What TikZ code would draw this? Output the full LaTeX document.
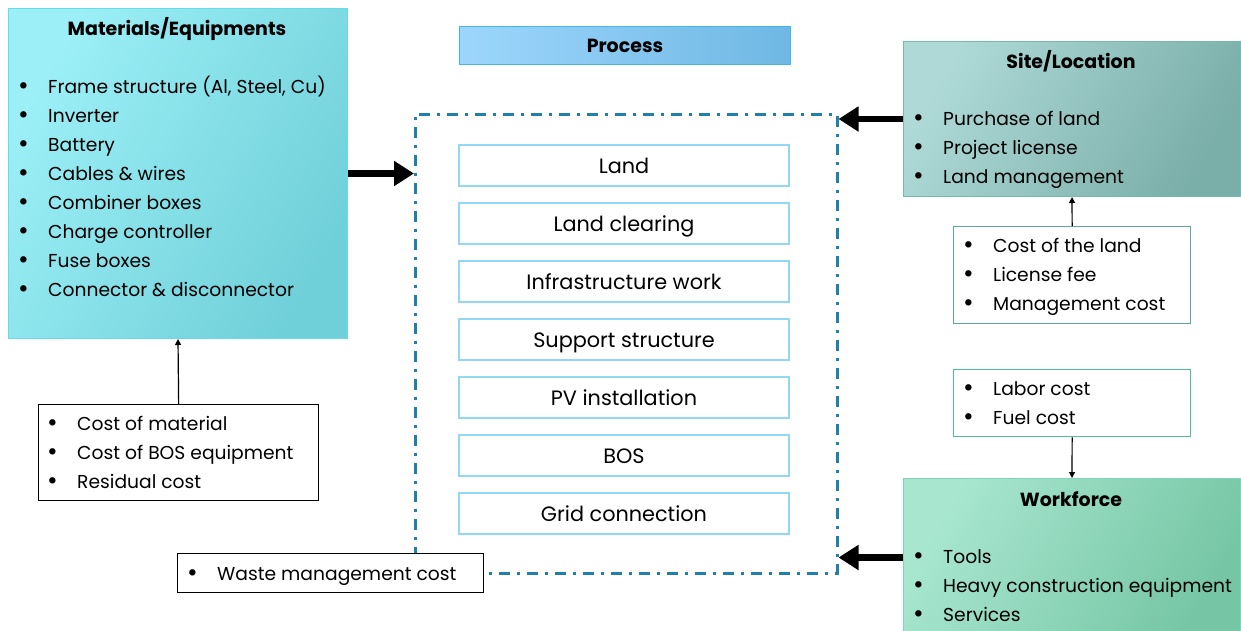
\documentclass[tikz,border=0pt]{standalone}
\usepackage{fontspec}
\setmainfont{Poppins}
\usetikzlibrary{arrows.meta}
\definecolor{matL}{HTML}{9CEFF6}
\definecolor{matR}{HTML}{70D0D9}
\definecolor{matB}{HTML}{66DCE8}
\definecolor{procL}{HTML}{9DD6FC}
\definecolor{procR}{HTML}{6FB8E4}
\definecolor{procB}{HTML}{45B5EA}
\definecolor{siteL}{HTML}{AED9D7}
\definecolor{siteR}{HTML}{7AAEA9}
\definecolor{siteB}{HTML}{75B9B3}
\definecolor{wfL}{HTML}{A8E6D0}
\definecolor{wfR}{HTML}{76C6A5}
\definecolor{wfB}{HTML}{80D5B8}
\definecolor{pboxB}{HTML}{92D8F2}
\definecolor{frameC}{HTML}{2180AA}
\definecolor{scB}{HTML}{5DA8A1}
\definecolor{labB}{HTML}{4DBD9A}
\newcommand\listfont{\fontsize{18.7}{29}\selectfont}
\newcommand\blist[1]{\begin{tabular}[t]{@{}p{30pt}@{}l@{}}#1\end{tabular}}
\newcommand\bl{\raisebox{-1.5pt}{\fontsize{26}{26}\selectfont\textbullet} &}
\begin{document}
\begin{tikzpicture}[x=1pt,y=-1pt,
  bigbox/.style={draw, line width=1pt, inner sep=0pt, shading angle=60},
  ttl/.style={font=\fontsize{19}{22}\selectfont\bfseries, inner sep=0pt, anchor=center},
  lst/.style={font=\listfont, inner sep=0pt, anchor=base west},
  pbox/.style={draw=pboxB, line width=1.2pt, fill=white, minimum width=330pt, minimum height=41pt, inner sep=0pt, text height=16pt, text depth=0pt, font=\fontsize{20.8}{22}\selectfont},
  costbox/.style={draw, line width=1.3pt, fill=white, inner sep=0pt, anchor=north west},
  bigarrow/.style={line width=6.5pt, -{Triangle[length=20pt,width=24pt]}},
  smallarrow/.style={line width=1.2pt, -{Triangle[length=6pt,width=6pt]}}]
\useasboundingbox (0,0) rectangle (1241,630);
\fill[white] (0,0) rectangle (1241,630);
% Materials
\node[bigbox, draw=matB, left color=matL, right color=matR, shading angle=60, anchor=north west, minimum width=339pt, minimum height=330pt] (mat) at (8,8) {};
\node[ttl] (matT) at (177,29) {Materials/Equipments};
\node[lst] (matLst) at (18,93) {\blist{\bl Frame structure (Al, Steel, Cu)\\ \bl Inverter\\ \bl Battery\\ \bl Cables \& wires\\ \bl Combiner boxes\\ \bl Charge controller\\ \bl Fuse boxes\\ \bl Connector \& disconnector}};
% Process header
\node[bigbox, draw=procB, left color=procL, right color=procR, shading angle=90, anchor=north west, minimum width=331pt, minimum height=38pt] (proc) at (459,26) {};
\node[ttl] (procT) at (proc.center) {Process};
% frame
\node[draw=frameC, line width=2.5pt, dash pattern=on 11pt off 7pt on 3pt off 7pt, anchor=north west, minimum width=422pt, minimum height=459pt, inner sep=0pt] (fr) at (414,113) {};
% process boxes
\node[pbox] (p1) at (624,165.5) {Land};
\node[pbox] (p2) at (624,223.5) {Land clearing};
\node[pbox] (p3) at (624,281.5) {Infrastructure work};
\node[pbox] (p4) at (624,339.5) {Support structure};
\node[pbox] (p5) at (624,397.5) {PV installation};
\node[pbox] (p6) at (624,455.5) {BOS};
\node[pbox] (p7) at (624,513.5) {Grid connection};
% Site
\node[bigbox, draw=siteB, left color=siteL, right color=siteR, shading angle=60, anchor=north west, minimum width=337pt, minimum height=155pt] (site) at (903,41) {};
\node[ttl] (siteT) at (1071,61) {Site/Location};
\node[lst] (siteLst) at (913,125) {\blist{\bl Purchase of land\\ \bl Project license\\ \bl Land management}};
% Site cost
\node[costbox, draw=scB, minimum width=237pt, minimum height=97pt] (sc) at (953,226) {};
\node[lst] (scLst) at (963,252) {\blist{\bl Cost of the land\\ \bl License fee\\ \bl Management cost}};
% Labor
\node[costbox, draw=labB, minimum width=237pt, minimum height=67pt] (lab) at (953,369) {};
\node[lst] (labLst) at (963,395) {\blist{\bl Labor cost\\ \bl Fuel cost}};
% Workforce
\node[bigbox, draw=wfB, left color=wfL, right color=wfR, shading angle=60, anchor=north west, minimum width=337pt, minimum height=158pt] (wf) at (903,478) {};
\node[ttl] (wfT) at (1071,499) {Workforce};
\node[lst] (wfLst) at (913,563) {\blist{\bl Tools\\ \bl Heavy construction equipment\\ \bl Services}};
% Material cost
\node[costbox, minimum width=280pt, minimum height=96pt] (mc) at (38,404) {};
\node[lst] (mcLst) at (47,430) {\blist{\bl Cost of material\\ \bl Cost of BOS equipment\\ \bl Residual cost}};
% Waste
\node[costbox, minimum width=306pt, minimum height=39pt] (wc) at (177,553) {};
\node[lst] (wcLst) at (187,580) {\blist{\bl Waste management cost}};
% arrows
\draw[bigarrow] (mat.east) -- (mat.east -| fr.west);
\draw[bigarrow] (site.west) -- (site.west -| fr.east);
\draw[bigarrow] (wf.west) -- (wf.west -| fr.east);
\draw[smallarrow] (sc.north) -- (site.south);
\draw[smallarrow] (lab.south) -- (wf.north);
\draw[smallarrow] (mc.north) -- (mat.south);
\end{tikzpicture}
\end{document}
